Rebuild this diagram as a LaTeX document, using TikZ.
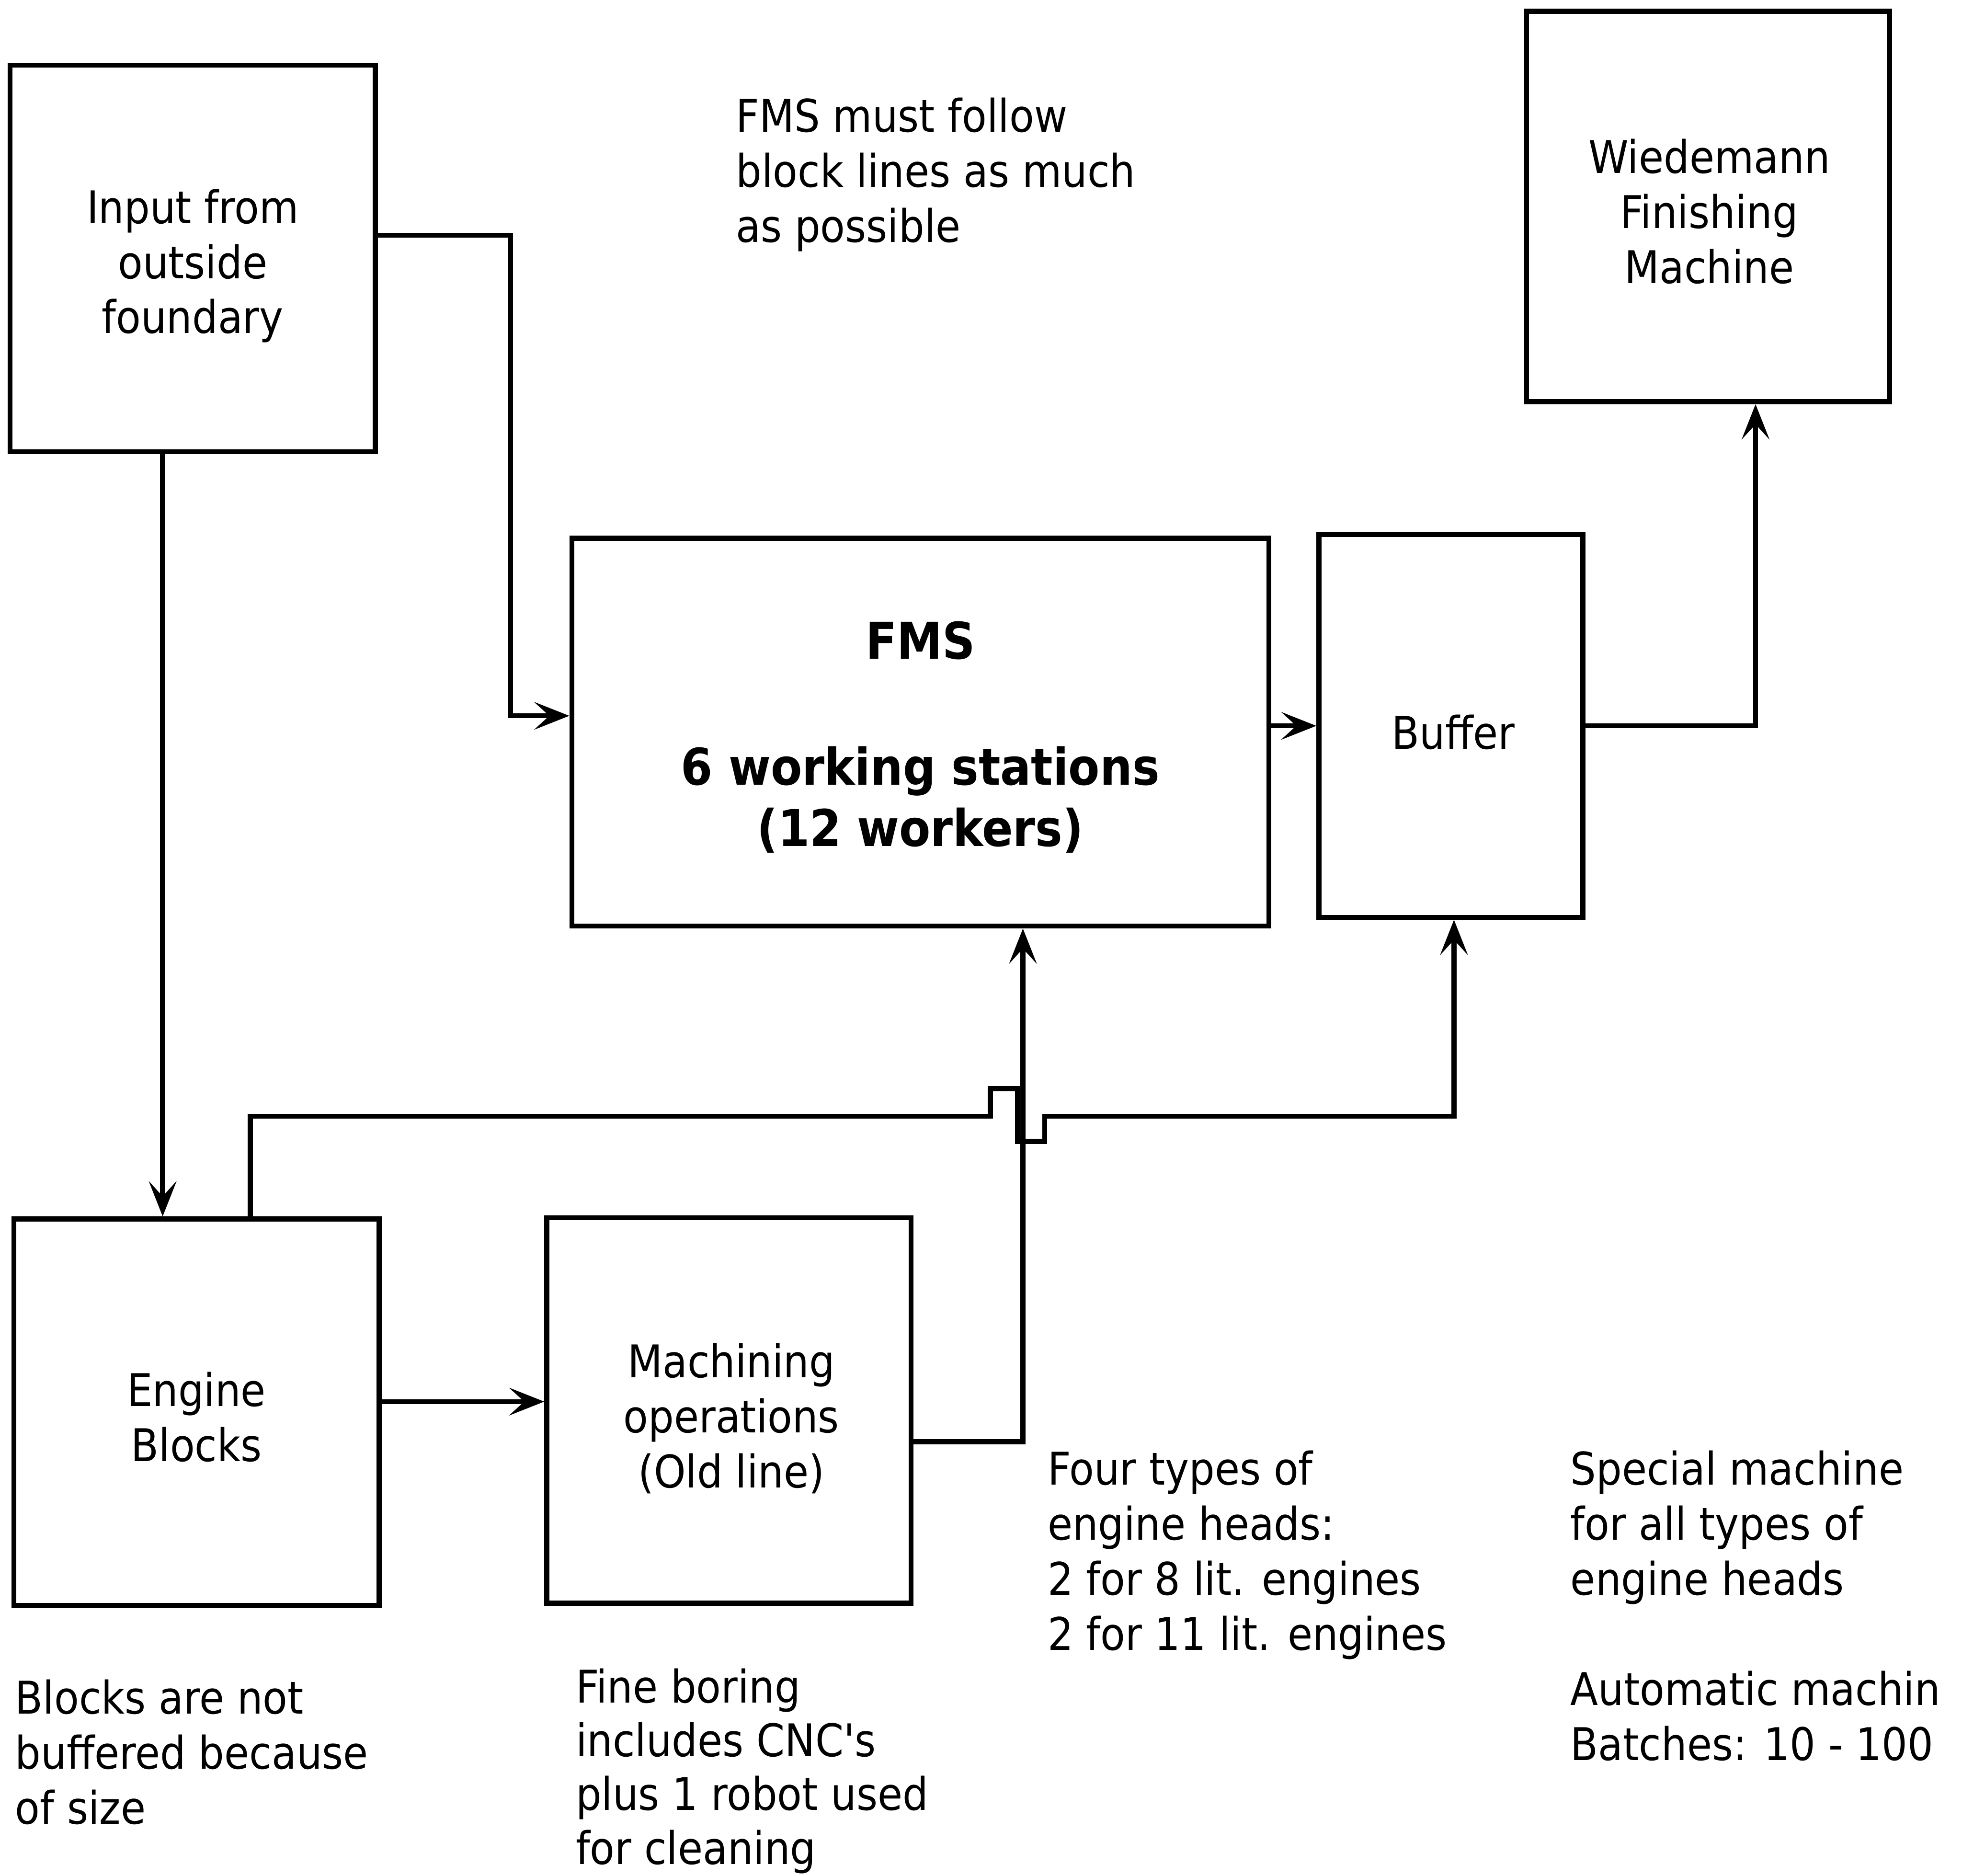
\documentclass[tikz,border=0pt]{standalone}
\usepackage{fontspec}
\setmainfont{DejaVu Sans Condensed}
\usetikzlibrary{arrows.meta}
\tikzset{
  box/.style={draw, line width=4pt, inner sep=0pt},
  boxtext/.style={align=center, inner sep=0pt,
    font=\fontsize{36}{44}\selectfont},
  note/.style={anchor=north west, align=left, inner sep=0pt,
    font=\fontsize{36}{44}\selectfont},
  conn/.style={line width=4pt},
  arr/.style={conn, -{Stealth[length=28pt,width=22pt,inset=12pt]}}
}
\begin{document}
\begin{tikzpicture}[x=1pt,y=-1pt]
\useasboundingbox[fill=white] (0,0) rectangle (1568,1499);

% blocks of the flow
\node[box, minimum width=292pt, minimum height=309pt] (input) at (154,206.5) {};
\node[box, minimum width=290pt, minimum height=312pt] (wied) at (1365,165) {};
\node[box, minimum width=557pt, minimum height=310pt] (fms) at (735.5,585) {};
\node[box, minimum width=211pt, minimum height=306pt] (buffer) at (1159.5,580) {};
\node[box, minimum width=292pt, minimum height=309pt] (engine) at (157,1128.5) {};
\node[box, minimum width=291pt, minimum height=308pt] (mach) at (582.5,1127) {};

% block labels
\node[boxtext] (inputtext) at ([yshift=-6pt]input.center) {Input from\\outside\\foundary};
\node[boxtext] (wiedtext) at ([xshift=1pt,yshift=-4pt]wied.center) {Wiedemann\\Finishing\\Machine};
\node[boxtext, font=\bfseries\fontsize{40.5}{49}\selectfont] (fmstext)
  at ([yshift=-4pt]fms.center) {FMS\\[52pt]6 working stations\\(12 workers)};
\node[boxtext] (buffertext) at ([xshift=2pt,yshift=-5pt]buffer.center) {Buffer};
\node[boxtext] (enginetext) at ([yshift=-4pt]engine.center) {Engine\\Blocks};
\node[boxtext] (machtext) at ([xshift=2pt,yshift=-6.5pt]mach.center) {Machining\\operations\\(Old line)};

% notes
\node[note] (n1) at (588,78) {FMS must follow\\block lines as much\\as possible};
\node[note] (n2) at (837,1159) {Four types of\\engine heads:\\2 for 8 lit. engines\\2 for 11 lit. engines};
\node[note] (n3) at (1255,1159) {Special machine\\for all types of\\engine heads\\[44pt]Automatic machin\\Batches: 10 - 100};
\node[note] (n4) at (12,1342) {Blocks are not\\buffered because\\of size};
\node[note, font=\fontsize{36}{43}\selectfont] (n5) at (460,1333) {Fine boring\\includes CNC\textquotesingle s\\plus 1 robot used\\for cleaning};

% connectors
\draw[arr] ([yshift=18.5pt]input.east) -| ([xshift=-47pt,yshift=13pt]fms.west)
  -- ([yshift=13pt]fms.west);
\draw[arr] ([xshift=-24pt]input.south) -- ([xshift=-24pt]input.south |- engine.north);
\draw[arr] (fms.east |- buffer.west) -- (buffer.west);
\draw[arr] (buffer.east) -| ([xshift=38pt]wied.south);
\draw[arr] ([yshift=8.5pt]engine.east) -- ([yshift=8.5pt]engine.east -| mach.west);
\draw[arr] ([yshift=-25pt]mach.east) -| ([xshift=82pt]fms.south);

% blocks line to the buffer, hopping over the line into the FMS
\coordinate (hop) at ([xshift=82pt]fms.south |- 0,892);
\draw[arr] ([xshift=43pt]engine.north) |- ([xshift=-26pt]hop)
  -- ++(0,-22) -- ++(21.5,0) -- ++(0,42) -- ++(22,0) -- ++(0,-20)
  -| ([xshift=2.5pt]buffer.south);
\end{tikzpicture}
\end{document}
